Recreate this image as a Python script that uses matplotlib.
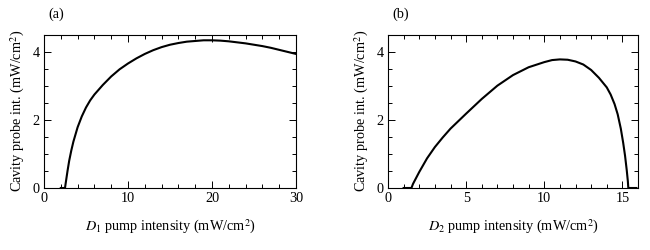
import matplotlib
matplotlib.use("Agg")
import matplotlib.pyplot as plt
from matplotlib.ticker import MultipleLocator

plt.rcParams["font.family"] = ["Liberation Serif", "DejaVu Serif"]
plt.rcParams["mathtext.fontset"] = "stix"
plt.rcParams["font.size"] = 10.3

# panel (a): D1 pump
d1_pump = [2.0, 2.5, 2.6, 2.8, 3.0, 3.25, 3.5, 4.0, 4.5, 5.0, 5.5, 6, 7, 8, 9, 10, 11, 12, 13, 14, 15,
           16, 17, 18, 19, 20, 21, 22, 23, 24, 25, 26, 27, 28, 29, 30]
d1_probe = [0, 0, 0.17, 0.5, 0.8, 1.1, 1.36, 1.78, 2.1, 2.36, 2.57, 2.74, 3.02, 3.27, 3.48, 3.65, 3.8, 3.93,
            4.04, 4.13, 4.2, 4.25, 4.29, 4.31, 4.33, 4.33, 4.32, 4.3, 4.27, 4.24, 4.2, 4.16, 4.11, 4.05, 3.99, 3.93]

# panel (b): D2 pump
d2_pump = [1.0, 1.5, 1.6, 2.0, 2.5, 3.0, 3.5, 4.0, 5.0, 6.0, 7.0, 8.0, 9.0, 10.0, 10.5, 11.0, 11.5, 12.0,
           12.5, 13.0, 13.5, 14.0, 14.25, 14.5, 14.7, 14.9, 15.05, 15.17, 15.28, 15.35, 15.38, 15.9]
d2_probe = [0, 0, 0.12, 0.47, 0.87, 1.2, 1.48, 1.74, 2.18, 2.61, 3.0, 3.31, 3.54, 3.69, 3.75, 3.77, 3.76, 3.71,
            3.62, 3.46, 3.23, 2.95, 2.74, 2.46, 2.16, 1.74, 1.33, 0.95, 0.52, 0.2, 0, 0]

fig = plt.figure(figsize=(6.5, 2.5), dpi=100)
ax1 = fig.add_axes([44/650, 62/250, 252/650, 153.5/250])
ax2 = fig.add_axes([388/650, 62/250, 250/650, 153.5/250])

panels = [
    (ax1, d1_pump, d1_probe, 30, 10, 2, "$D_1$", "(a)"),
    (ax2, d2_pump, d2_probe, 16, 5, 1, "$D_2$", "(b)"),
]

for ax, x, y, xmax, xmaj, xmin, dname, tag in panels:
    ax.plot(x, y, color="black", lw=1.5)
    ax.set_xlim(0, xmax)
    ax.set_ylim(0, 4.5)
    ax.xaxis.set_major_locator(MultipleLocator(xmaj))
    ax.xaxis.set_minor_locator(MultipleLocator(xmin))
    ax.yaxis.set_major_locator(MultipleLocator(2))
    ax.yaxis.set_minor_locator(MultipleLocator(0.5))
    ax.tick_params(which="both", direction="in", top=True, right=True, width=0.7)
    ax.tick_params(which="major", length=5, pad=3)
    ax.tick_params(which="minor", length=3)
    for s in ax.spines.values():
        s.set_linewidth(0.8)
    ax.set_xlabel(dname + " pump intensity (mW/cm$^2$)", labelpad=9)
    ax.set_ylabel("Cavity probe int. (mW/cm$^2$)", labelpad=4)
    ax.text(0.05, 1.13, tag, transform=ax.transAxes, ha="center", va="center")

plt.savefig("out.png", dpi=100)
